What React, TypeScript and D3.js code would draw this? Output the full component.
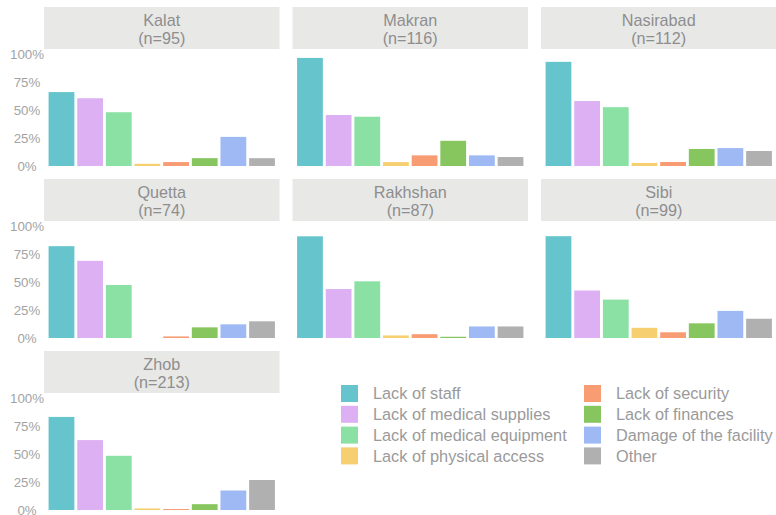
import React from "react";
import * as d3 from "d3";

const regions = ["Kalat", "Makran", "Nasirabad", "Quetta", "Rakhshan", "Sibi", "Zhob"];
const sampleSizes = [95, 116, 112, 74, 87, 99, 213];
const categories = [
  "Lack of staff",
  "Lack of medical supplies",
  "Lack of medical equipment",
  "Lack of physical access",
  "Lack of security",
  "Lack of finances",
  "Damage of the facility",
  "Other",
];
const colors = ["#66C5CC", "#DCB0F2", "#8BE0A4", "#F6CF71", "#F89C74", "#87C55F", "#9EB9F3", "#B0B0B0"];

// percentages per region, in category order
const kalat = [66, 60.5, 48, 2, 3.5, 7, 26, 7];
const makran = [96.5, 45.5, 44, 3.5, 9.5, 22.5, 9.5, 8];
const nasirabad = [93, 58, 52.5, 2.7, 3.6, 15.2, 16, 13.4];
const quetta = [82, 68.9, 47.3, 0, 1.4, 9.5, 12.2, 14.9];
const rakhshan = [90.8, 43.7, 50.6, 2.3, 3.4, 1.1, 10.3, 10.3];
const sibi = [90.9, 42.4, 34.3, 9.1, 5.1, 13.1, 24.2, 17.2];
const zhob = [83.1, 62.4, 48.4, 1.4, 0.9, 5.2, 17.4, 26.8];
const regionValues = [kalat, makran, nasirabad, quetta, rakhshan, sibi, zhob];

const yTicks = [0, 25, 50, 75, 100];

const FONT = "'Liberation Sans', Arial, Helvetica, sans-serif";

export default function App() {
  const width = 776;
  const height = 515;
  const colStep = 248.5;
  const rowStep = 172;
  const panelW = 235.5;
  const x0 = 44;
  const y0 = 7;
  const stripH = 42;

  const x = d3
    .scaleBand<string>()
    .domain(categories)
    .range([0, panelW])
    .paddingInner(0.1)
    .paddingOuter(0.16);

  const y = d3.scaleLinear().domain([0, 100]).range([159, 47]);

  return (
    <svg
      width={width}
      height={height}
      style={{ position: "absolute", left: 0, top: 0, fontFamily: FONT }}
    >
      <rect x={0} y={0} width={width} height={height} fill="#ffffff" />
      {regions.map((r, i) => {
        const col = i % 3;
        const row = Math.floor(i / 3);
        const px = x0 + col * colStep;
        const py = y0 + row * rowStep;
        const vals = regionValues[i];
        return (
          <g key={r} transform={`translate(${px},${py})`}>
            <rect x={0} y={0} width={panelW} height={stripH} fill="#E8E8E7" />
            <text x={panelW / 2} y={19} textAnchor="middle" fontSize={16.2} fill="#8E8E8E">
              {r}
            </text>
            <text x={panelW / 2} y={36.5} textAnchor="middle" fontSize={16.2} fill="#8E8E8E">
              {`(n=${sampleSizes[i]})`}
            </text>
            {vals.map((v, k) => (
              <rect
                key={k}
                x={x(categories[k])}
                y={y(v)}
                width={x.bandwidth()}
                height={Math.max(0, y(0) - y(v))}
                fill={colors[k]}
              />
            ))}
            {col === 0 &&
              yTicks.map((t) => (
                <text
                  key={t}
                  x={27 - px}
                  y={y(t)}
                  dy="0.36em"
                  textAnchor="middle"
                  fontSize={13.3}
                  fill="#A3A3A3"
                >
                  {`${t}%`}
                </text>
              ))}
          </g>
        );
      })}
      <g>
        {categories.map((c, k) => {
          const col = Math.floor(k / 4);
          const row = k % 4;
          const kx = 341 + col * 243;
          const ky = 385 + row * 20.8;
          return (
            <g key={c} transform={`translate(${kx},${ky})`}>
              <rect x={0} y={0} width={17} height={17} fill={colors[k]} />
              <text x={32} y={8.5} dy="0.36em" fontSize={16.3} fill="#9A9A9A">
                {c}
              </text>
            </g>
          );
        })}
      </g>
    </svg>
  );
}
